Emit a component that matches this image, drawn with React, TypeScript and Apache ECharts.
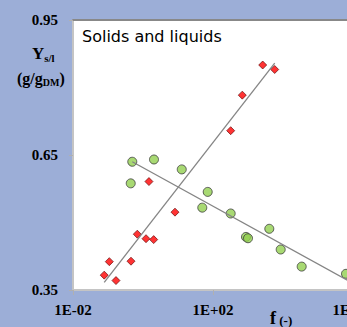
import React, { useEffect, useRef } from "react";
import * as echarts from "echarts";

// f (-) values and Y (g/gDM) values
const solidsF = [0.078, 0.109, 0.169, 0.454, 0.687, 1.22, 2.02, 1.48, 8.2, 320, 687, 2630, 5790];
const solidsY = [0.383, 0.413, 0.371, 0.414, 0.474, 0.464, 0.462, 0.591, 0.523, 0.704, 0.783, 0.85, 0.84];
const liquidsF = [0.494, 2.06, 12.8, 0.446, 70.6, 49.4, 320, 4060, 877, 1000, 8590, 34200, 631000];
const liquidsY = [0.635, 0.64, 0.618, 0.587, 0.568, 0.533, 0.52, 0.486, 0.468, 0.465, 0.44, 0.402, 0.386];
const solidsTrendF = [0.078, 5800];
const solidsTrendY = [0.367, 0.854];
const liquidsTrendF = [0.494, 1000000];
const liquidsTrendY = [0.635, 0.365];
const yTicks = [0.35, 0.65, 0.95];
const xTickExponents = [-2, 2, 6];

const toPts = (fs: number[], ys: number[]) => fs.map((f, i) => [Math.log10(f), ys[i]]);

const fmtExp = (v: number) => {
  const e = Math.round(v);
  return "1E" + (e < 0 ? "-" : "+") + String(Math.abs(e)).padStart(2, "0");
};

export default function App() {
  const ref = useRef<HTMLDivElement>(null);
  useEffect(() => {
    if (!ref.current) return;
    const chart = echarts.init(ref.current, undefined, { renderer: "svg" });
    const serif = "'Liberation Serif', 'Times New Roman', serif";
    const labelStyle = { color: "#000", fontFamily: serif, fontWeight: "bold" as const, fontSize: 15 };
    chart.setOption({
      animation: false,
      backgroundColor: "#9caed7",
      grid: {
        left: 73,
        right: 67,
        top: 20,
        bottom: 37,
        show: true,
        backgroundColor: "#ffffff",
        borderWidth: 0,
      },
      xAxis: [
        {
          type: "value",
          min: xTickExponents[0],
          max: xTickExponents[xTickExponents.length - 1],
          interval: xTickExponents[1] - xTickExponents[0],
          splitLine: { show: false },
          axisLine: { show: true, onZero: false, lineStyle: { color: "#c4c4c4", width: 2 } },
          axisTick: { show: true, length: 5, lineStyle: { color: "#b0b0b0" } },
          axisLabel: { ...labelStyle, margin: 12, formatter: fmtExp },
        },
        {
          type: "value",
          position: "top",
          min: xTickExponents[0],
          max: xTickExponents[xTickExponents.length - 1],
          splitLine: { show: false },
          axisLine: { show: true, onZero: false, lineStyle: { color: "#888888", width: 2 } },
          axisTick: { show: false },
          axisLabel: { show: false },
        },
      ],
      yAxis: {
        type: "value",
        min: yTicks[0],
        max: yTicks[yTicks.length - 1],
        interval: yTicks[1] - yTicks[0],
        splitLine: { show: false },
        axisLine: { show: true, onZero: false, lineStyle: { color: "#c4c4c4", width: 2 } },
        axisTick: { show: true, length: 4, lineStyle: { color: "#b0b0b0" } },
        axisLabel: { ...labelStyle, margin: 15, formatter: (v: number) => v.toFixed(2) },
      },
      graphic: [
        {
          type: "text",
          left: 82,
          top: 28,
          style: { text: "Solids and liquids", fill: "#000", font: "16px 'DejaVu Sans', sans-serif" },
        },
        {
          type: "text",
          left: 32,
          top: 45,
          style: {
            text: "{a|Y}{b|s/l}",
            rich: {
              a: { fontFamily: serif, fontWeight: "bold", fontSize: 17, fill: "#000" },
              b: { fontFamily: serif, fontWeight: "bold", fontSize: 11, fill: "#000", padding: [8, 0, 0, 0] },
            },
          },
        },
        {
          type: "text",
          left: 17,
          top: 70,
          style: {
            text: "{a|(g/g}{b|DM}{a|)}",
            rich: {
              a: { fontFamily: serif, fontWeight: "bold", fontSize: 16, fill: "#000" },
              b: { fontFamily: serif, fontWeight: "bold", fontSize: 10, fill: "#000", padding: [8, 0, 0, 0] },
            },
          },
        },
        {
          type: "text",
          left: 270,
          top: 309,
          style: {
            text: "{a|f}{b| (-)}",
            rich: {
              a: { fontFamily: serif, fontWeight: "bold", fontSize: 18, fill: "#000" },
              b: { fontFamily: serif, fontWeight: "bold", fontSize: 13, fill: "#000", padding: [4, 0, 0, 0] },
            },
          },
        },
      ],
      series: [
        {
          type: "line",
          data: toPts(solidsTrendF, solidsTrendY),
          symbol: "none",
          lineStyle: { color: "#858585", width: 1.3 },
          silent: true,
        },
        {
          type: "line",
          data: toPts(liquidsTrendF, liquidsTrendY),
          symbol: "none",
          lineStyle: { color: "#858585", width: 1.3 },
          silent: true,
        },
        {
          type: "scatter",
          data: toPts(solidsF, solidsY),
          symbol: "diamond",
          symbolSize: 8,
          itemStyle: { color: "#ff0000", borderColor: "#5a0000", borderWidth: 0.8 },
        },
        {
          type: "scatter",
          data: toPts(liquidsF, liquidsY),
          symbol: "circle",
          symbolSize: 9,
          itemStyle: { color: "#92d050", borderColor: "#3c3c3c", borderWidth: 1 },
        },
      ],
    });
    return () => chart.dispose();
  }, []);
  return (
    <div
      style={{
        position: "fixed",
        left: 0,
        top: 0,
        width: 347,
        height: 327,
        overflow: "hidden",
        background: "#9caed7",
      }}
    >
      <div ref={ref} style={{ width: 420, height: 327 }} />
    </div>
  );
}
